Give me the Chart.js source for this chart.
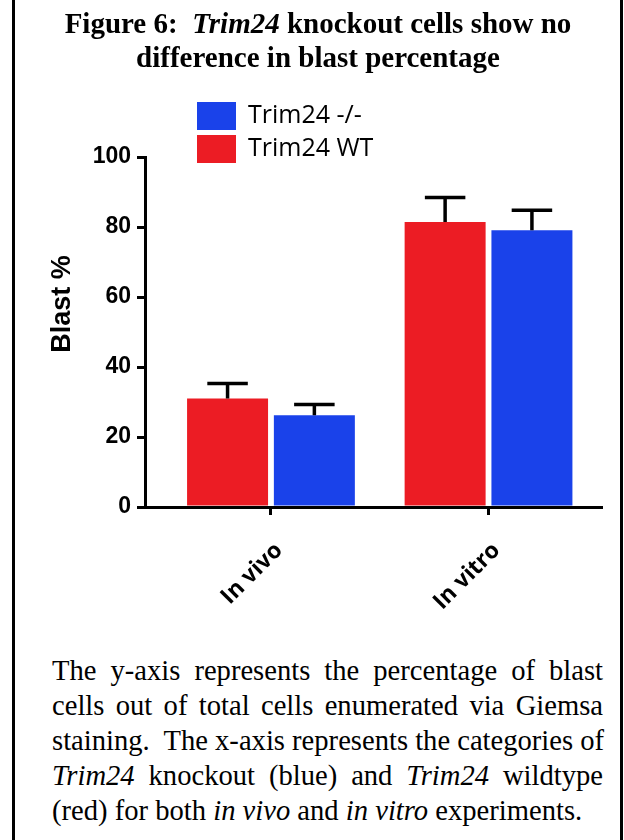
<!DOCTYPE html>
<html>
<head>
<meta charset="utf-8">
<script src="https://cdn.jsdelivr.net/npm/chart.js@4.4.1/dist/chart.umd.min.js"></script>
<style>
  html, body { margin: 0; padding: 0; background: #fff; }
  #page { position: relative; width: 624px; height: 840px; overflow: hidden; }
  .edge { position: absolute; top: 0; width: 3px; height: 840px; background: #000; }
  #chartBox { position: absolute; left: 0; top: 0; width: 624px; height: 640px; }
  .title {
    position: absolute; left: 14px; width: 608px; text-align: center;
    font-family: "Liberation Serif", "Times New Roman", serif;
    font-weight: bold; font-size: 29px; line-height: 34px; color: #000;
    white-space: pre;
  }
  .caption {
    position: absolute; left: 52px; width: 551px;
    font-family: "Liberation Serif", "Times New Roman", serif;
    font-size: 28.6px; line-height: 35px; color: #000;
  }
  .caption div { white-space: nowrap; text-align: justify; text-align-last: justify; }
  .caption div.last { text-align-last: left; }
</style>
</head>
<body>
<div id="page">
  <div class="edge" style="left:12px"></div>
  <div class="edge" style="left:620px"></div>
  <div id="chartBox"><canvas id="blastChart" width="624" height="640"></canvas></div>
  <div class="title" style="top:6px">Figure 6:  <i>Trim24</i> knockout cells show no
difference in blast percentage</div>
  <div class="caption" style="top:653px">
    <div>The y-axis represents the percentage of blast</div>
    <div>cells out of total cells enumerated via Giemsa</div>
    <div>staining.&nbsp; The x-axis represents the categories of</div>
    <div><i>Trim24</i> knockout (blue) and <i>Trim24</i> wildtype</div>
    <div class="last">(red) for both <i>in vivo</i> and <i>in vitro</i> experiments.</div>
  </div>
</div>
<script>
// groups on the x axis
const groups = ['In vivo', 'In vitro'];

// blast % (mean and upper error) per group
const wtMean = [31.0, 81.4];
const wtErr = [4.3, 7.0];
const koMean = [26.2, 79.1];
const koErr = [3.1, 5.7];

const seriesLabels = ['Trim24 WT', 'Trim24 -/-'];
const seriesColors = ['#ec1c24', '#1a42ea'];
const yTicks = [0, 20, 40, 60, 80, 100];

const errors = [wtErr, koErr];

// error bars (upper half only, the lower half sits inside the bar)
const errorBars = {
    id: 'errorBars',
    afterDatasetsDraw(chart) {
        const ctx = chart.ctx;
        const yScale = chart.scales.y;
        ctx.save();
        ctx.strokeStyle = '#000';
        ctx.lineWidth = 3.5;
        chart.data.datasets.forEach((ds, i) => {
            const meta = chart.getDatasetMeta(i);
            meta.data.forEach((bar, j) => {
                const top = yScale.getPixelForValue(ds.data[j].y + errors[i][j]);
                const half = bar.width * 0.25;
                ctx.beginPath();
                ctx.moveTo(bar.x, bar.y);
                ctx.lineTo(bar.x, top);
                ctx.moveTo(bar.x - half, top);
                ctx.lineTo(bar.x + half, top);
                ctx.stroke();
            });
        });
        ctx.restore();
    }
};

// legend stacked in the upper left of the plot, knockout first
const boxLegend = {
    id: 'boxLegend',
    afterDraw(chart) {
        const ctx = chart.ctx;
        const order = chart.data.datasets.map((d, i) => i).reverse();
        ctx.save();
        ctx.font = '25px "Open Sans"';
        ctx.textBaseline = 'middle';
        order.forEach((idx, k) => {
            const ds = chart.data.datasets[idx];
            const y = 102 + k * 33;
            ctx.fillStyle = ds.backgroundColor;
            ctx.fillRect(197, y, 39, 28);
            ctx.fillStyle = '#000';
            ctx.fillText(ds.label, 248, y + 14);
        });
        ctx.restore();
    }
};

// rotated y axis title
const yTitle = {
    id: 'yTitle',
    afterDraw(chart) {
        const ctx = chart.ctx;
        ctx.save();
        ctx.translate(63, 304);
        ctx.rotate(-Math.PI / 2);
        ctx.font = 'bold 27px "Liberation Sans"';
        ctx.textAlign = 'center';
        ctx.textBaseline = 'middle';
        ctx.fillStyle = '#000';
        ctx.fillText('Blast %', 0, 0);
        ctx.restore();
    }
};

function makeSeries(values) {
    return groups.map((g, i) => ({ x: i, y: values[i] }));
}

new Chart(document.getElementById('blastChart'), {
    type: 'bar',
    data: {
        datasets: [
            { label: seriesLabels[0], data: makeSeries(wtMean), backgroundColor: seriesColors[0] },
            { label: seriesLabels[1], data: makeSeries(koMean), backgroundColor: seriesColors[1] }
        ]
    },
    options: {
        responsive: false,
        animation: false,
        categoryPercentage: 0.798,
        barPercentage: 0.933,
        layout: { padding: { top: 157, right: 23, left: 0, bottom: 0 } },
        plugins: {
            legend: { display: false },
            tooltip: { enabled: false }
        },
        scales: {
            x: {
                type: 'linear',
                min: -0.579,
                max: 1.517,
                offset: false,
                bounds: 'data',
                grid: { offset: false, drawOnChartArea: false, color: '#000', lineWidth: 3, tickLength: 8 },
                border: { color: '#000', width: 3 },
                afterBuildTicks: s => { s.ticks = groups.map((g, i) => ({ value: i })); },
                afterFit: s => { s.height = 133; },
                ticks: {
                    autoSkip: false,
                    minRotation: 45,
                    maxRotation: 45,
                    padding: 22,
                    labelOffset: 8,
                    color: '#000',
                    font: { family: '"Open Sans"', weight: 'bold', size: 23 },
                    callback: v => groups[v] || ''
                }
            },
            y: {
                min: 0,
                max: 100,
                grid: { drawOnChartArea: false, color: '#000', lineWidth: 3, tickLength: 8 },
                border: { color: '#000', width: 3 },
                afterBuildTicks: s => { s.ticks = yTicks.map(v => ({ value: v })); },
                afterFit: s => { s.width = 145; },
                ticks: {
                    padding: 6,
                    color: '#000',
                    font: { family: '"Liberation Sans"', weight: 'bold', size: 23 }
                }
            }
        }
    },
    plugins: [errorBars, boxLegend, yTitle]
});
</script>
</body>
</html>
